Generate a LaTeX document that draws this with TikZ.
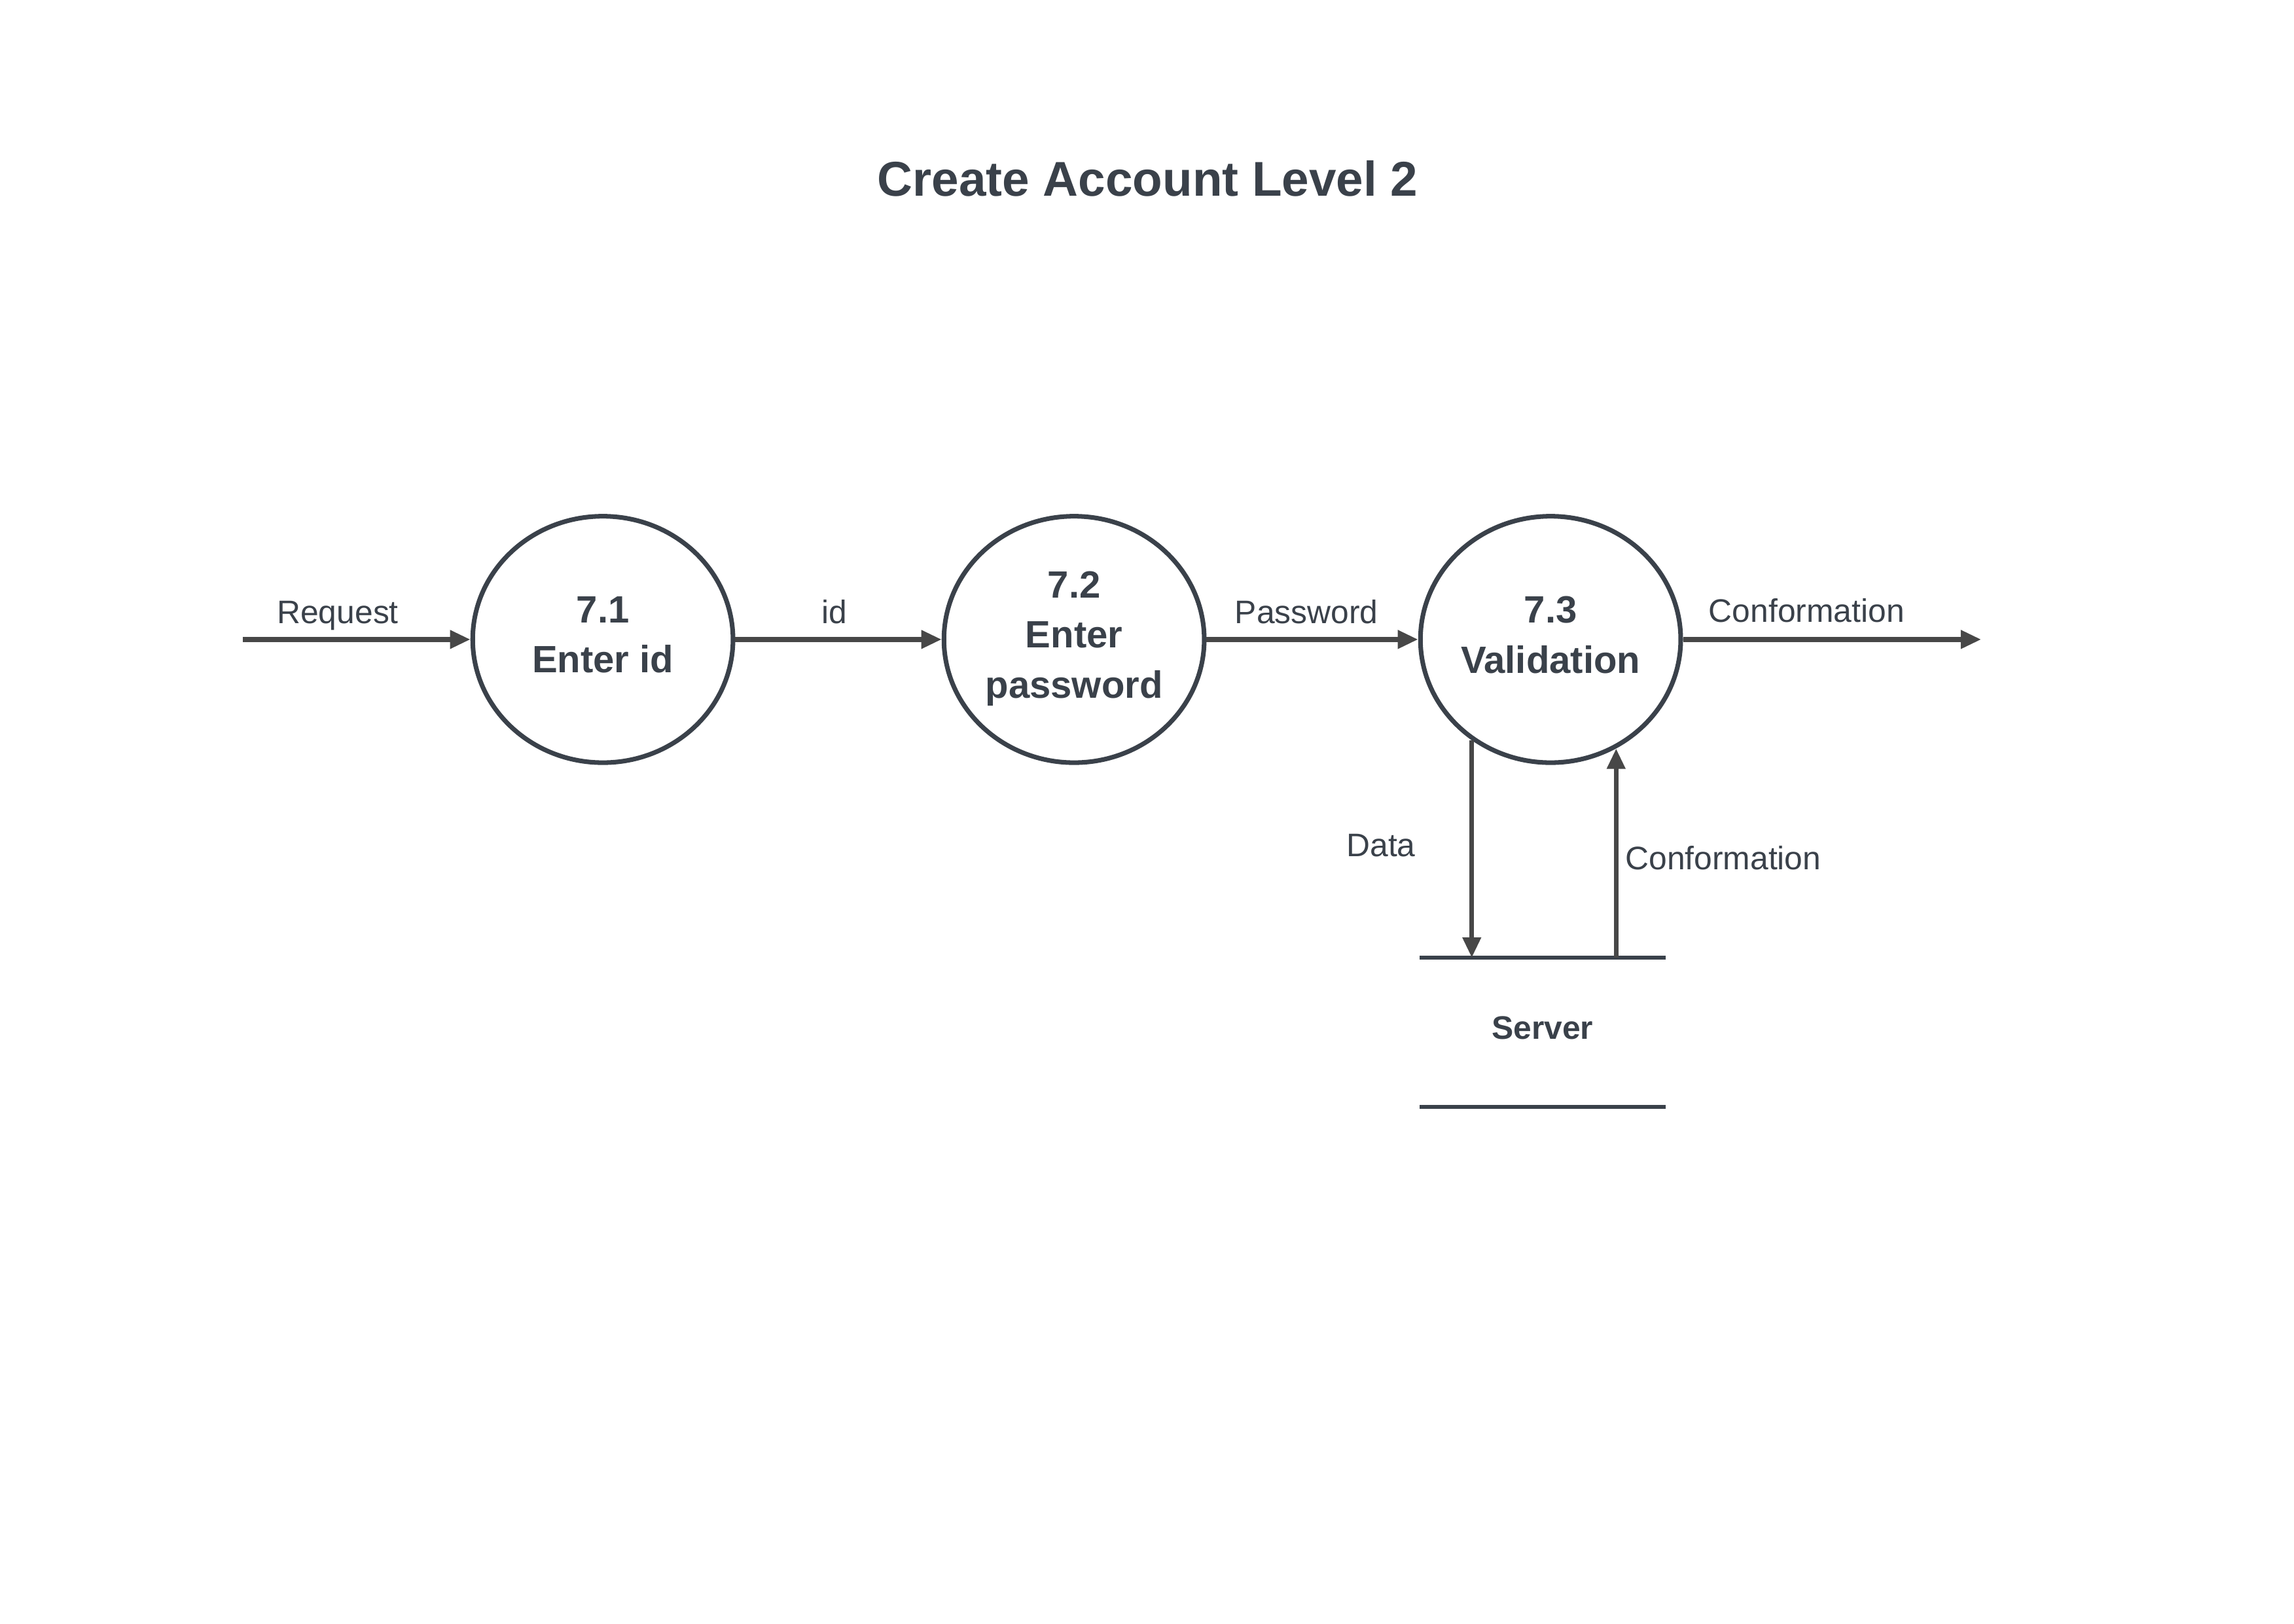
\documentclass[tikz,border=0pt]{standalone}
\usepackage{fontspec}
\setmainfont{Liberation Sans}
\usetikzlibrary{shapes.geometric,arrows.meta,positioning}
\definecolor{ink}{RGB}{58,65,74}
\definecolor{wire}{RGB}{71,71,71}
\tikzset{
  proc/.style={ellipse,draw=ink,line width=1.7pt,minimum width=3.37cm,minimum height=3.19cm,
    inner sep=0pt,align=center,text=ink,text depth=3.5pt,font=\fontsize{14}{18.5}\selectfont\bfseries},
  flow/.style={draw=wire,line width=1.8pt,-{Triangle[length=7.5pt,width=6.5pt]}},
  lbl/.style={text=ink,font=\fontsize{12}{14}\selectfont,inner sep=0pt,anchor=base},
  storeline/.style={draw=ink,line width=1.5pt},
}

\begin{document}
\begin{tikzpicture}
  \useasboundingbox (0,0) rectangle (29.7,21.015);

  \node[text=ink,font=\fontsize{18}{22}\selectfont\bfseries,anchor=base] (title) at (14.86,18.48) {Create Account Level 2};

  % processes
  \node[proc] (p71) at (7.805,12.737) {7.1\\Enter id};
  \node[proc] (p72) at (13.906,12.737) {7.2\\Enter\\password};
  \node[proc] (p73) at (20.075,12.737) {7.3\\Validation};

  % data store
  \node[text=ink,font=\fontsize{12}{14}\selectfont\bfseries,text depth=3.5pt,minimum width=3.17cm,minimum height=1.916cm,inner sep=0pt] (store) at (19.97,7.652) {Server};
  \draw[storeline] (store.north west) -- (store.north east);
  \draw[storeline] (store.south west) -- (store.south east);

  \coordinate (src) at (3.144,12.737);
  \coordinate (sink) at (25.65,12.737);

  \draw[flow] (src) -- (p71);
  \draw[flow] (p71) -- (p72);
  \draw[flow] (p72) -- (p73);
  \draw[flow] (p73) -- (sink);
  \draw[flow] (p73.232.5) -- (p73.232.5 |- store.north);
  \draw[flow] (p73.301.3 |- store.north) -- (p73.301.3);

  \node[lbl] (lreq) at (4.373,12.947) {Request};
  \node[lbl] (lid) at (10.80,12.947) {id};
  \node[lbl] (lpwd) at (16.915,12.947) {Password};
  \node[lbl] (lconf) at (23.39,12.96) {Conformation};
  \node[lbl] (ldata) at (17.88,9.93) {Data};
  \node[lbl] (lconf2) at (22.31,9.76) {Conformation};
\end{tikzpicture}
\end{document}
